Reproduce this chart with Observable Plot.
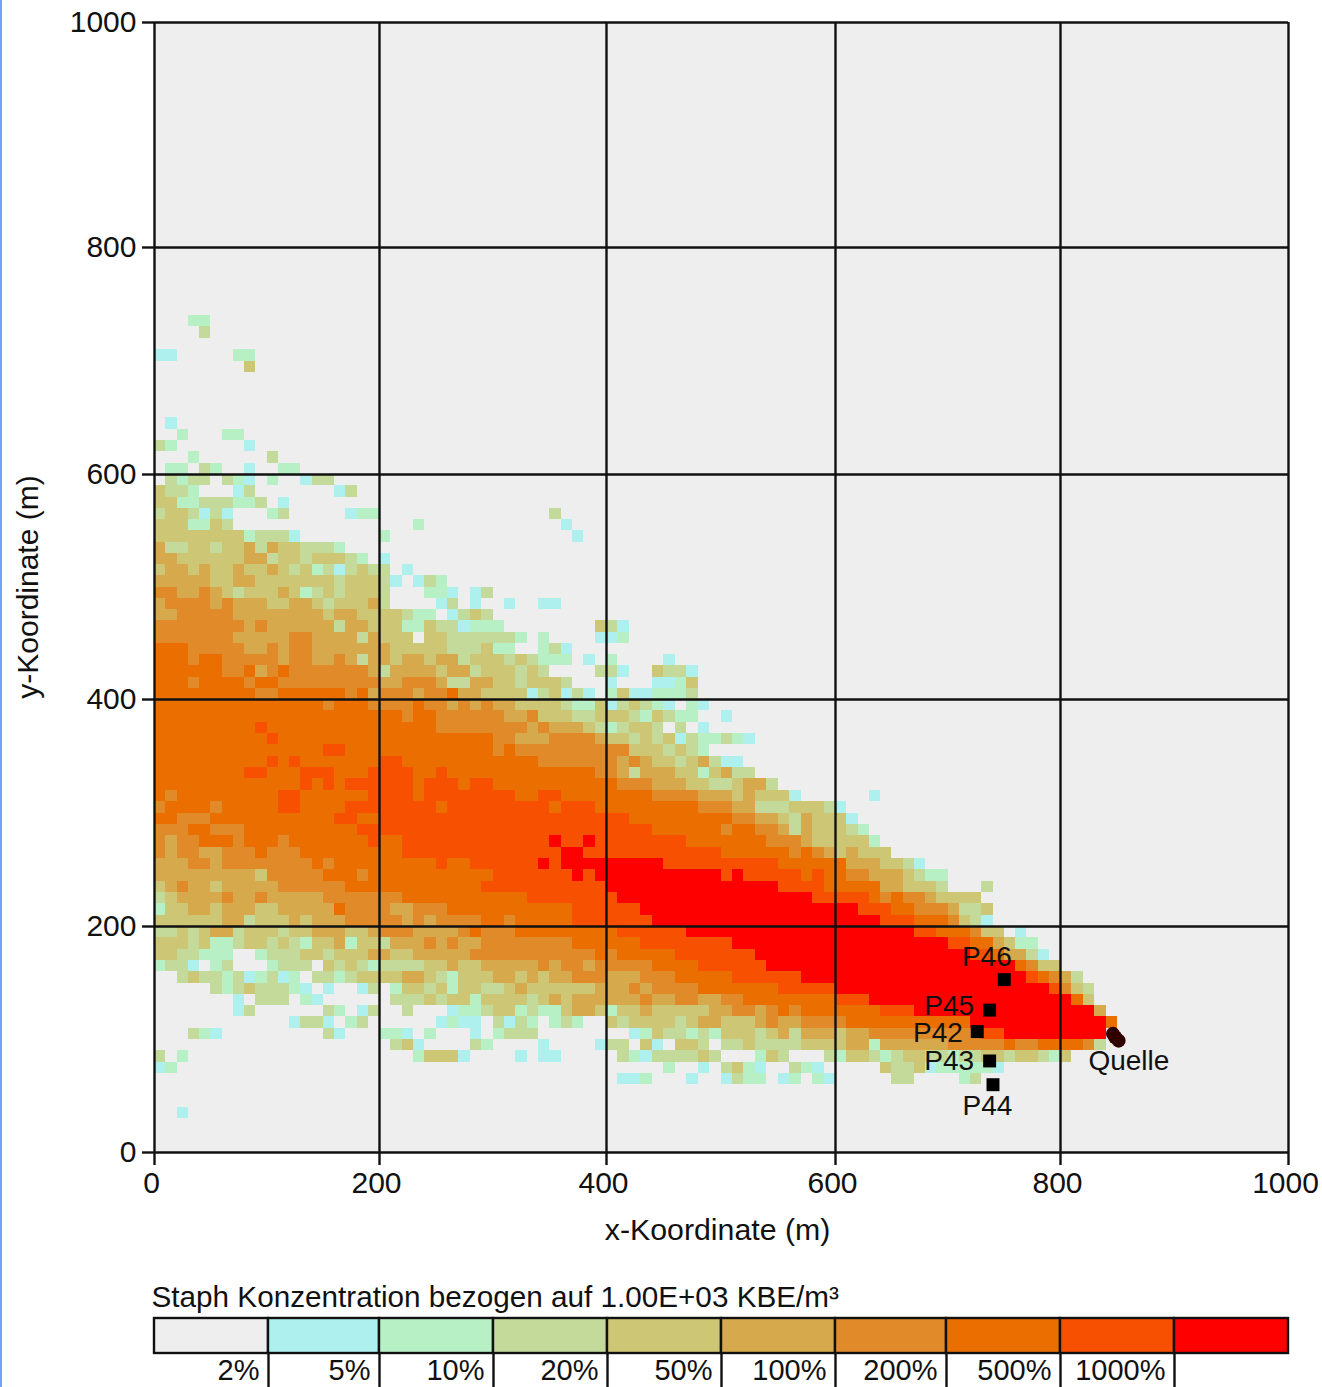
<!DOCTYPE html>
<html>
<head>
<meta charset="utf-8">
<script src="https://cdn.jsdelivr.net/npm/d3@7"></script>
<script src="https://cdn.jsdelivr.net/npm/@observablehq/plot@0.6"></script>
<style>
html,body{margin:0;padding:0;background:#fff;overflow:hidden}
svg{display:block}
#edge{position:fixed;left:0;top:0;bottom:0;width:2px;background:#6ea4f5}
</style>
</head>
<body>
<div id="edge"></div>
<div id="chart"></div>
<script>
// Concentration classes, lowest to highest
const classColors = ["#eeeeee","#aef0ee","#b8f0c6","#c3da9a","#ccc675","#d6a94c","#e18a2a","#eb6e00","#f75000","#ff0000"];
const legendLabels = ["2%","5%","10%","20%","50%","100%","200%","500%","1000%"];
const axisTicks = [0,200,400,600,800,1000];

// Grid rows (10 m each). Tokens are "startColumn:class"; a run lasts until the next token.
const rowIndex = [73,72,70,69,64,63,62,61,60,59,58,57,56,55,54,53,52,51,50,49,48,47,46,45,44,43,42,41,40,39,38,37,36,35,34,33,32,31,30,29,28,27,26,25,24,23,22,21,20,19,18,17,16,15,14,13,12,11,10,9,8,7,6,3];
const rowRuns = [
"3:2 5:0",
"4:3 5:0",
"0:1 2:0 7:2 9:0",
"8:4 9:0",
"1:1 2:0",
"2:2 3:0 6:2 8:0",
"0:3 1:2 2:0 8:1 9:0",
"3:2 4:0 10:3 11:0",
"1:2 3:0 4:3 5:2 6:0 8:1 9:0 11:2 13:0",
"1:3 2:2 3:3 5:0 6:3 7:2 8:1 9:0 10:2 11:0 13:1 14:3 16:0",
"0:4 1:3 3:2 4:0 7:1 8:3 9:0 16:1 17:3 18:0",
"0:4 2:2 4:3 7:2 9:3 10:0 11:1 12:0",
"0:3 1:4 3:3 4:1 5:3 6:1 7:0 10:2 11:3 12:0 17:1 18:2 20:0 35:3 36:0",
"0:4 3:2 5:4 6:3 7:0 23:2 24:0 36:1 37:0",
"0:4 8:2 9:3 12:1 13:0 20:2 21:0 37:1 38:0",
"0:5 1:3 3:4 5:3 6:4 8:5 9:3 10:5 11:4 13:3 16:2 17:0",
"0:5 2:4 8:5 10:3 11:4 13:3 14:4 17:3 18:2 19:0 20:1 21:0",
"0:4 1:5 3:4 4:5 5:4 7:5 8:4 10:5 11:4 12:3 13:4 14:2 15:3 16:1 17:3 18:4 19:3 21:0 22:1 23:0",
"0:5 5:4 7:5 9:4 16:3 17:4 20:3 21:1 22:0 23:1 24:3 25:2 26:0",
"0:6 2:5 4:6 5:5 6:4 7:3 8:4 11:5 12:4 13:2 14:3 15:4 16:3 17:4 20:3 21:0 24:2 26:1 27:0 28:1 29:3 30:0",
"0:5 1:6 5:5 6:6 7:5 10:4 12:5 14:4 15:3 16:4 19:5 20:3 21:0 25:1 26:3 27:0 28:1 29:0 31:1 32:0 34:1 36:0",
"0:5 2:6 7:5 15:4 16:5 18:4 22:3 23:2 25:0 26:1 27:3 28:4 29:3 30:0",
"0:6 8:5 9:6 10:5 16:3 17:5 19:4 22:2 24:4 25:3 27:1 28:2 31:0 39:4 40:3 41:1 42:0",
"0:6 7:5 12:6 14:5 18:3 19:5 20:4 23:0 24:4 26:3 32:2 33:0 34:2 35:0 39:1 41:2 42:0",
"0:7 3:6 8:5 10:6 11:5 12:6 14:5 21:4 26:3 29:4 30:2 32:0 34:2 35:3 36:1 37:0",
"0:7 3:6 4:7 6:6 11:5 12:6 14:5 16:6 17:5 18:3 19:5 21:4 22:5 24:4 25:5 27:3 28:4 31:3 32:4 33:3 34:2 37:0 38:1 39:0 40:2 41:0 45:1 46:0",
"0:7 6:6 8:7 9:5 10:6 11:7 12:6 19:5 20:3 21:5 25:4 26:5 28:3 29:4 32:3 33:4 34:3 35:0 39:3 41:1 42:0 44:4 45:3 47:1 48:0",
"0:7 3:6 4:7 8:6 9:7 11:6 20:5 22:6 25:5 26:3 28:5 30:4 32:3 33:4 36:3 37:0 40:1 41:0 44:1 46:2 47:4 48:0",
"0:7 9:6 11:7 17:6 18:7 19:5 20:6 23:5 24:6 26:7 27:5 29:4 33:1 34:3 35:4 36:1 37:3 38:1 39:0 40:2 41:4 42:1 44:2 47:3 48:0",
"0:7 15:6 16:7 19:6 23:7 24:6 26:5 27:6 28:5 29:6 30:5 32:4 36:3 37:2 39:4 40:1 41:3 42:4 43:3 44:2 45:1 46:0 47:2 48:1 49:0",
"0:7 22:6 23:7 25:6 31:5 33:6 34:4 37:3 39:4 42:3 43:2 44:4 45:3 46:2 48:0 50:1 51:0",
"0:7 9:8 10:7 25:6 33:5 34:6 35:5 38:4 39:3 40:2 41:3 42:4 44:3 45:0 46:3 47:0 48:1 49:0",
"0:7 10:8 11:7 30:6 32:5 35:6 39:5 40:4 42:3 43:4 44:3 45:4 46:1 47:3 48:2 50:3 51:2 52:1 53:0",
"0:7 15:8 17:7 30:6 31:7 32:6 42:4 45:3 46:4 47:3 48:2 49:0",
"0:7 10:8 11:7 12:8 13:7 20:8 22:7 34:6 41:5 42:6 43:5 44:4 46:3 47:4 48:5 49:3 50:1 52:0",
"0:7 8:8 10:7 13:8 16:7 19:8 23:7 25:8 26:7 39:6 41:5 42:3 43:5 46:4 48:2 49:4 50:5 51:3 53:0",
"0:7 13:8 14:7 15:8 16:7 17:8 23:7 24:8 27:7 28:8 30:7 41:6 44:5 47:4 49:3 51:4 52:5 54:3 55:0",
"0:7 1:6 2:7 11:8 13:7 19:8 23:7 24:8 32:7 34:8 36:7 44:6 48:5 51:4 52:5 53:4 56:1 57:0 63:1 64:0",
"0:6 1:7 5:6 6:7 11:8 13:7 17:8 25:7 26:8 35:7 36:8 39:7 48:6 51:5 53:3 56:4 59:3 60:1 61:0",
"0:7 2:6 5:7 16:8 18:7 20:8 42:7 51:6 53:5 55:4 56:3 57:5 58:4 61:1 62:0",
"0:6 3:7 5:6 8:7 18:8 44:7 50:6 51:7 53:6 55:5 56:3 57:5 58:4 61:3 62:2 63:0",
"0:6 1:5 2:6 4:7 7:6 8:7 11:6 12:7 19:8 20:7 22:8 35:9 36:8 38:9 39:8 47:7 54:6 57:5 58:4 63:2 64:0",
"0:6 1:5 2:6 4:5 6:6 9:7 10:6 13:7 22:8 36:9 38:8 50:7 56:6 57:7 58:6 59:5 60:4 61:5 62:4 65:0",
"0:5 3:6 5:5 6:6 14:7 15:6 16:7 25:8 26:7 28:8 34:9 35:8 36:9 45:8 55:7 61:5 64:4 66:3 67:1 68:0",
"0:5 9:4 10:6 15:7 18:6 19:7 30:8 37:9 38:8 39:9 50:8 51:9 52:8 57:7 58:8 59:7 61:6 63:5 66:4 67:3 68:2 70:0",
"0:4 1:5 2:6 3:5 5:4 6:5 11:6 17:7 29:8 40:9 55:8 59:7 64:5 66:4 69:3 70:0 73:3 74:0",
"0:3 1:4 2:5 6:6 7:5 9:6 10:5 15:6 22:7 33:8 41:9 58:8 63:7 64:6 65:7 66:6 68:5 69:4 73:0",
"0:2 1:4 3:5 5:4 6:5 9:4 11:5 16:7 17:6 21:5 23:6 26:7 37:8 43:9 62:8 65:7 67:6 70:5 71:3 73:4 74:0",
"0:4 6:5 8:3 9:4 12:5 13:4 14:5 17:6 22:5 23:6 24:5 25:6 29:7 31:6 32:7 37:8 44:9 64:8 67:7 70:6 71:4 72:3 73:1 74:0",
"0:3 2:4 3:3 4:4 5:5 7:3 8:4 11:3 12:4 14:5 17:4 19:5 20:6 23:5 27:6 28:7 29:6 32:7 41:8 47:9 67:8 69:7 72:6 73:4 75:0 76:1 77:0",
"0:4 3:3 4:4 5:2 7:3 8:4 10:3 11:4 12:3 13:2 14:4 16:5 17:2 18:4 20:3 21:5 24:6 25:5 26:6 27:5 29:6 37:7 43:8 51:9 70:8 72:7 74:5 75:4 76:2 78:0",
"0:4 2:3 4:2 7:0 9:2 10:3 13:4 15:3 16:4 19:5 21:4 23:5 28:6 39:7 40:6 41:7 46:8 53:9 72:8 74:7 75:5 77:3 78:1 79:0",
"0:2 1:3 3:1 4:0 5:2 6:3 7:0 10:2 11:3 14:0 15:4 16:3 17:4 18:3 19:2 20:3 24:4 26:5 27:4 29:5 34:6 35:5 36:6 38:5 39:6 44:7 48:8 54:9 76:7 77:6 78:4 80:0",
"2:3 3:4 4:3 6:2 7:3 8:1 9:2 10:3 11:1 12:2 13:0 14:3 16:2 17:3 18:4 22:5 24:4 25:3 26:2 27:4 30:5 32:4 33:5 34:4 35:5 37:6 40:5 43:6 46:7 51:8 57:9 77:8 78:7 79:6 80:5 81:3 82:0",
"5:3 6:2 7:3 8:4 9:3 12:2 13:1 14:0 15:1 16:0 18:1 19:3 20:0 21:2 22:4 24:3 25:4 26:2 27:4 29:3 31:4 32:5 33:4 39:5 42:6 43:5 44:6 48:7 55:8 60:9 79:8 80:6 81:4 82:3 83:0",
"7:1 8:0 9:3 12:0 13:2 14:1 15:0 21:3 24:4 25:3 26:4 28:2 29:4 33:3 34:4 35:5 36:4 37:5 43:6 44:5 46:6 48:5 50:6 52:7 60:8 63:9 81:7 82:4 83:0",
"7:1 8:3 9:0 15:3 16:2 17:0 18:1 19:3 20:0 22:3 23:0 26:1 27:2 29:3 30:4 32:2 33:3 34:2 36:4 37:5 39:4 40:2 41:4 43:5 44:4 49:5 51:6 53:5 54:6 55:7 56:6 57:7 64:8 67:9 83:5 84:0",
"12:1 13:3 15:1 16:0 17:2 18:3 19:0 25:1 26:2 27:1 29:0 30:3 31:1 32:3 33:2 34:0 35:2 36:3 37:2 38:0 40:4 41:3 42:4 46:3 47:4 48:5 50:4 53:5 54:6 55:5 57:6 61:7 72:9 84:7 85:0",
"3:3 4:2 5:1 6:0 15:3 16:1 17:0 20:2 22:1 23:0 24:2 25:0 28:1 29:0 30:2 31:3 34:0 42:1 43:2 44:4 45:3 47:2 48:3 49:2 50:4 53:3 54:4 55:5 56:3 57:5 60:4 61:5 63:6 73:8 75:9 84:0",
"21:3 22:4 23:1 24:0 28:3 29:2 30:0 34:1 35:0 39:1 40:3 42:0 43:4 44:1 45:0 46:4 48:3 49:0 50:3 52:4 53:3 57:4 61:5 63:2 64:5 70:6 75:7 76:6 78:7 82:6 83:3 84:0",
"0:3 1:0 2:2 3:0 23:2 24:4 27:1 28:0 32:1 33:0 34:1 36:0 41:3 42:2 43:1 44:3 48:4 49:3 50:0 53:2 54:4 55:3 56:0 59:3 60:2 61:4 63:3 64:2 65:3 66:4 68:3 70:2 71:3 73:4 75:3 76:4 78:3 79:2 80:4 81:0",
"0:1 1:2 2:0 45:2 46:0 48:1 49:0 50:3 51:4 52:2 53:1 54:0 56:3 57:2 58:1 59:0 64:4 65:3 67:4 68:1 69:2 74:1 75:0",
"41:1 43:2 44:0 47:1 48:0 50:1 51:3 52:2 54:0 55:1 56:2 57:0 58:2 59:1 60:0 65:3 67:0 71:2 72:3 73:0",
"2:1 3:0"
];

// Measuring points, their labels and the source
const pointNames = ["P46","P45","P42","P43","P44"];
const pointX = [750,737,726,737,740];
const pointY = [153,126,107,81,60];
const labelX = [734.5,701,691,701,735];
const labelY = [173,130,106,81,41];
const sourceX = [846,848,851];
const sourceY = [105,102,99];
const sourceLabel = {x: 860, y: 81, text: "Quelle"};

const cellSize = 10;
const runs = [];
rowRuns.forEach((str, r) => {
  const toks = str.split(" ").map(t => t.split(":").map(Number));
  toks.forEach(([start, cls], i) => {
    if (cls === 0 || i === toks.length - 1) return;
    runs.push({
      x1: start * cellSize, x2: toks[i + 1][0] * cellSize,
      y1: rowIndex[r] * cellSize, y2: (rowIndex[r] + 1) * cellSize,
      cls
    });
  });
});
const points = pointNames.map((name, i) => ({name, x: pointX[i], y: pointY[i], lx: labelX[i], ly: labelY[i]}));
const source = sourceX.map((x, i) => ({x, y: sourceY[i]}));

const font = "'Liberation Sans', Arial, sans-serif";
const ink = "#111";

const main = Plot.plot({
  width: 1322, height: 1270,
  marginLeft: 154, marginRight: 34, marginTop: 22, marginBottom: 118,
  style: {fontFamily: font, fontSize: "30px", background: "transparent", color: ink},
  x: {type: "linear", domain: axisTicks, range: [154,379,606,835,1060,1288]},
  y: {type: "linear", domain: axisTicks, range: [1152,926,699,474,247,22]},
  color: {type: "ordinal", domain: d3.range(classColors.length), range: classColors},
  marks: [
    Plot.rect([{x1:0,x2:1000,y1:0,y2:1000}], {x1:"x1",x2:"x2",y1:"y1",y2:"y2",fill:classColors[0]}),
    Plot.rect(runs, {x1:"x1",x2:"x2",y1:"y1",y2:"y2",fill:"cls",shapeRendering:"crispEdges"}),
    Plot.ruleX(axisTicks, {stroke: ink, strokeWidth: 2.4}),
    Plot.ruleY(axisTicks, {stroke: ink, strokeWidth: 2.4}),
    Plot.axisX({ticks: axisTicks, tickSize: 13, strokeWidth: 2.4, label: null, tickFormat: () => ""}),
    Plot.axisY({ticks: axisTicks, tickSize: 12, tickPadding: 6, strokeWidth: 2.4, fontSize: 30, label: null, tickFormat: d => String(d)}),
    Plot.text(axisTicks, {x: d => d, y: () => 0, text: d => String(d), dx: -3, dy: 31, fontSize: 30}),
    Plot.text(["x-Koordinate (m)"], {x: () => 497, y: () => 0, dy: 78, fontSize: 30.3, text: d => d}),
    Plot.text(["y-Koordinate (m)"], {x: () => 0, y: () => 500, dx: -126, rotate: -90, fontSize: 30, text: d => d}),
    Plot.dot(source, {x:"x",y:"y",r:7,fill:"#300000"}),
    Plot.dot(points, {x:"x",y:"y",r:7.3,symbol:"square",fill:"#000"}),
    Plot.text(points, {x:"lx",y:"ly",text:"name",fontSize:28}),
    Plot.text([sourceLabel], {x:"x",y:"y",text:"text",fontSize:28})
  ]
});

const legendEdges = [154,268,379,493,607,721,835,946,1060,1174,1288];
const legendBins = classColors.map((fill, i) => ({i, fill}));
const legend = Plot.plot({
  width: 1322, height: 117,
  marginLeft: 154, marginRight: 34, marginTop: 48, marginBottom: 34,
  style: {fontFamily: font, fontSize: "29px", background: "transparent", color: ink},
  x: {type: "linear", domain: d3.range(legendEdges.length), range: legendEdges, axis: null},
  y: {domain: [0,1], range: [83,48], axis: null},
  marks: [
    Plot.rect(legendBins, {x1:"i",x2:d=>d.i+1,y1:()=>0,y2:()=>1,fill:"fill",stroke:ink,strokeWidth:2.4}),
    Plot.ruleX(legendLabels.map((_, i) => i + 1), {y1:()=>0,y2:()=>-1,stroke:ink,strokeWidth:2.4}),
    Plot.text(legendLabels, {x:(_, i)=>i+1,y:()=>0,text:d=>d,textAnchor:"end",dx:-9,dy:17,fontSize:29}),
    Plot.text(["Staph Konzentration bezogen auf 1.00E+03 KBE/m³"], {x:()=>0,y:()=>1,text:d=>d,textAnchor:"start",dx:-3,dy:-21,fontSize:29.7})
  ]
});

document.getElementById("chart").append(main, legend);
</script>
</body>
</html>
